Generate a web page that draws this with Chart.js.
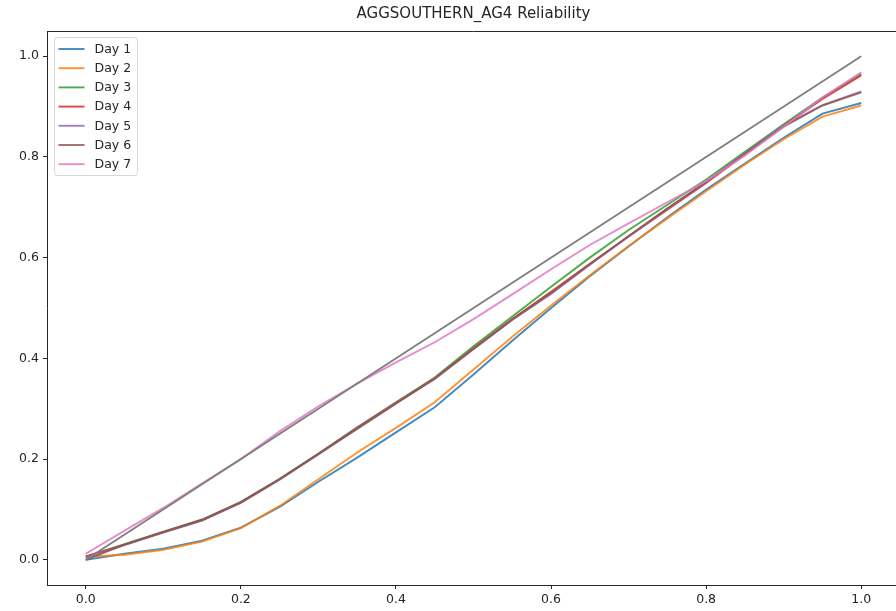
<!DOCTYPE html>
<html>
<head>
<meta charset="utf-8">
<script src="https://cdn.jsdelivr.net/npm/chart.js@4.4.1/dist/chart.umd.min.js"></script>
<style>
    html, body { margin: 0; padding: 0; background: #fff; overflow: hidden; }
    canvas { display: block; }
</style>
</head>
<body>
<canvas id="chart" width="905" height="611"></canvas>
<script>
// forecast probability bins (x) and observed frequency per lead day (y)
const probBins = [0, 0.05, 0.1, 0.15, 0.2, 0.25, 0.3, 0.35, 0.4, 0.45, 0.5, 0.55, 0.6, 0.65, 0.7, 0.75, 0.8, 0.85, 0.9, 0.95, 1.0];

const day1 = [0.0, 0.012, 0.022, 0.038, 0.064, 0.105, 0.155, 0.203, 0.253, 0.303, 0.368, 0.435, 0.5, 0.563, 0.622, 0.68, 0.735, 0.787, 0.838, 0.886, 0.907];
const day2 = [0.006, 0.01, 0.02, 0.036, 0.063, 0.107, 0.16, 0.213, 0.262, 0.313, 0.378, 0.443, 0.505, 0.565, 0.623, 0.678, 0.732, 0.785, 0.835, 0.88, 0.902];
const day3 = [0.006, 0.031, 0.056, 0.08, 0.115, 0.161, 0.211, 0.263, 0.313, 0.362, 0.424, 0.483, 0.542, 0.6, 0.655, 0.705, 0.755, 0.81, 0.865, 0.918, 0.965];
const day4 = [0.007, 0.03, 0.055, 0.079, 0.114, 0.16, 0.21, 0.262, 0.312, 0.36, 0.42, 0.478, 0.532, 0.588, 0.642, 0.695, 0.748, 0.805, 0.862, 0.915, 0.962];
const day5 = [0.005, 0.029, 0.054, 0.078, 0.113, 0.159, 0.209, 0.261, 0.311, 0.359, 0.418, 0.476, 0.528, 0.586, 0.642, 0.697, 0.75, 0.807, 0.862, 0.903, 0.93];
const day6 = [0.0, 0.03, 0.055, 0.079, 0.114, 0.16, 0.21, 0.26, 0.31, 0.36, 0.419, 0.477, 0.53, 0.587, 0.643, 0.698, 0.75, 0.806, 0.86, 0.902, 0.928];
const day7 = [0.012, 0.058, 0.103, 0.152, 0.2, 0.255, 0.305, 0.35, 0.392, 0.432, 0.478, 0.527, 0.577, 0.625, 0.668, 0.71, 0.752, 0.803, 0.86, 0.918, 0.968];

// perfect reliability diagonal
const perfectX = [0, 1];
const perfectY = [0, 1];

const dayLabels = ['Day 1', 'Day 2', 'Day 3', 'Day 4', 'Day 5', 'Day 6', 'Day 7'];
const daySeries = [day1, day2, day3, day4, day5, day6, day7];

const xTicks = [0, 0.2, 0.4, 0.6, 0.8, 1.0];
const yTicks = [0, 0.2, 0.4, 0.6, 0.8, 1.0];

const titleText = 'AGGSOUTHERN_AG4 Reliability';

// matplotlib tab10
const palette = [
    'rgba(31, 119, 180, 0.85)',
    'rgba(255, 127, 14, 0.85)',
    'rgba(44, 160, 44, 0.85)',
    'rgba(214, 39, 40, 0.85)',
    'rgba(148, 103, 189, 0.85)',
    'rgba(140, 86, 75, 0.85)',
    'rgba(227, 119, 194, 0.85)',
];
const diagColor = 'rgb(127, 127, 127)';

const FONT = '"DejaVu Sans", sans-serif';
const INK = '#262626';

const toPoints = (xs, ys) => xs.map((x, i) => ({ x, y: ys[i] }));

const datasets = daySeries.map((ys, i) => ({
    label: dayLabels[i],
    data: toPoints(probBins, ys),
    borderColor: palette[i],
    borderWidth: 1.9,
    pointRadius: 0,
    tension: 0,
    fill: false,
    order: daySeries.length - i,
}));

datasets.push({
    label: '',
    data: toPoints(perfectX, perfectY),
    borderColor: diagColor,
    borderWidth: 1.9,
    pointRadius: 0,
    fill: false,
    order: 0,
});

// title, frame and a matplotlib-like legend drawn inside the axes
const decorPlugin = {
    id: 'decor',
    afterDraw(chart) {
        const { ctx, chartArea } = chart;
        ctx.save();

        // title
        ctx.fillStyle = INK;
        ctx.font = '15px ' + FONT;
        ctx.textAlign = 'center';
        ctx.textBaseline = 'middle';
        ctx.fillText(titleText, (chartArea.left + chartArea.right) / 2, 14);

        // top and right spines
        ctx.strokeStyle = INK;
        ctx.lineWidth = 1;
        ctx.beginPath();
        ctx.moveTo(chartArea.left, chartArea.top + 0.5);
        ctx.lineTo(chartArea.right, chartArea.top + 0.5);
        ctx.moveTo(chartArea.right - 0.5, chartArea.top);
        ctx.lineTo(chartArea.right - 0.5, chartArea.bottom);
        ctx.stroke();

        // legend box
        const bx = chartArea.left + 7.5;
        const by = chartArea.top + 6.5;
        const bw = 83;
        const bh = 138;
        ctx.fillStyle = 'rgba(255,255,255,0.8)';
        ctx.strokeStyle = 'rgba(204,204,204,0.8)';
        ctx.beginPath();
        ctx.roundRect(bx, by, bw, bh, 3);
        ctx.fill();
        ctx.stroke();

        ctx.font = '12.5px ' + FONT;
        ctx.textAlign = 'left';
        ctx.textBaseline = 'middle';
        dayLabels.forEach((lab, i) => {
            const y = by + 11.5 + i * 19.2;
            ctx.strokeStyle = palette[i];
            ctx.lineWidth = 1.9;
            ctx.beginPath();
            ctx.moveTo(bx + 4, y);
            ctx.lineTo(bx + 30, y);
            ctx.stroke();
            ctx.fillStyle = INK;
            ctx.fillText(lab, bx + 40, y + 0.5);
        });

        ctx.restore();
    },
};

new Chart(document.getElementById('chart'), {
    type: 'line',
    data: { datasets },
    options: {
        responsive: false,
        animation: false,
        events: [],
        layout: { padding: { top: 31, right: 5, left: 0, bottom: 0 } },
        plugins: {
            legend: { display: false },
            title: { display: false },
            tooltip: { enabled: false },
        },
        scales: {
            x: {
                type: 'linear',
                min: -0.05,
                max: 1.05,
                afterBuildTicks: (scale) => { scale.ticks = xTicks.map((v) => ({ value: v })); },
                afterFit: (scale) => { scale.height = 26; },
                ticks: {
                    color: INK,
                    font: { family: FONT, size: 12.5 },
                    padding: 3,
                    maxRotation: 0,
                    callback: (v) => v.toFixed(1),
                },
                grid: {
                    drawOnChartArea: false,
                    drawTicks: true,
                    tickLength: 4,
                    color: INK,
                },
                border: { display: true, color: INK, width: 1 },
            },
            y: {
                type: 'linear',
                min: -0.05,
                max: 1.05,
                afterBuildTicks: (scale) => { scale.ticks = yTicks.map((v) => ({ value: v })); },
                afterFit: (scale) => { scale.width = 47; },
                ticks: {
                    color: INK,
                    font: { family: FONT, size: 12.5 },
                    padding: 4,
                    callback: (v) => v.toFixed(1),
                },
                grid: {
                    drawOnChartArea: false,
                    drawTicks: true,
                    tickLength: 4,
                    color: INK,
                },
                border: { display: true, color: INK, width: 1 },
            },
        },
    },
    plugins: [decorPlugin],
});
</script>
</body>
</html>
